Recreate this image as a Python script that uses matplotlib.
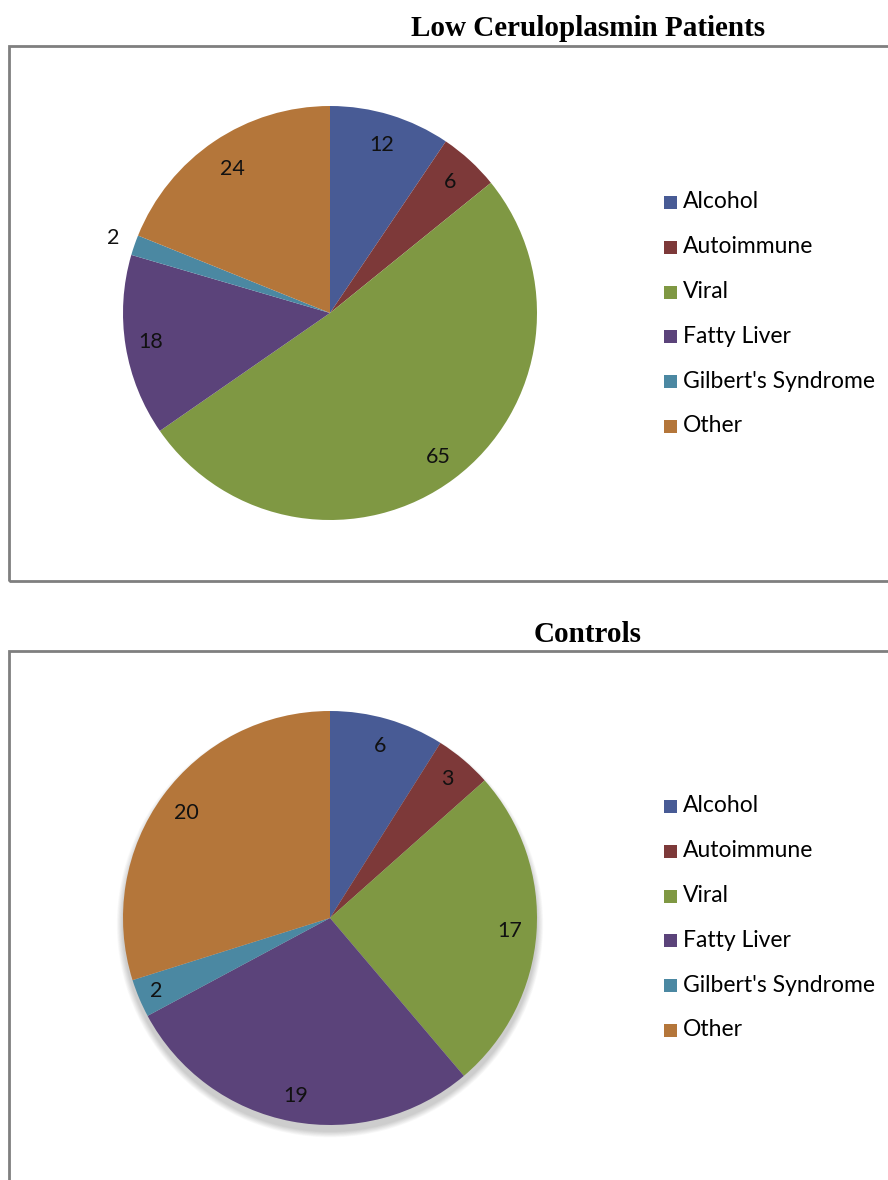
import numpy as np
import matplotlib.pyplot as plt
from matplotlib.patches import Rectangle, Circle

# ── Data ──────────────────────────────────────────────────────────
CATEGORIES = ["Alcohol", "Autoimmune", "Viral", "Fatty Liver",
              "Gilbert's Syndrome", "Other"]
LOW_CP     = [12, 6, 65, 18, 2, 24]
CONTROLS   = [6, 3, 17, 19, 2, 20]
TITLES     = ["Low Ceruloplasmin Patients", "Controls"]

COLORS = ["#485B95", "#7D3939", "#7F9843", "#5B437A", "#4B88A2", "#B4763A"]

# label radius (fraction of pie radius) per slice, Excel "best fit" look
LABEL_R = [[0.85, 0.86, 0.87, 0.88, 1.11, 0.84],
           [0.865, 0.88, 0.87, 0.875, 0.91, 0.86]]

W, H, DPI = 888, 1180, 100
fig = plt.figure(figsize=(W / DPI, H / DPI), dpi=DPI)


def px_axes(x0, y0, w, h):
    """axes from pixel box (top-left origin)"""
    return fig.add_axes([x0 / W, 1 - (y0 + h) / H, w / W, h / H])


def fig_rect(x0, y0, x1, y1):
    fig.patches.append(Rectangle((x0 / W, 1 - y1 / H), (x1 - x0) / W, (y1 - y0) / H,
                                 transform=fig.transFigure, fill=False,
                                 edgecolor="#7f7f7f", linewidth=2.0))


# panel frames (right / bottom run past the image)
fig_rect(9, 46, 900, 581)
fig_rect(9, 651, 900, 1200)

panels = [
    dict(vals=LOW_CP, cx=330, cy=313, title_x=588, title_y=28, leg_y=202, shadow=False),
    dict(vals=CONTROLS, cx=330, cy=918, title_x=588, title_y=634, leg_y=806, shadow=True),
]
R = 207

for pi, p in enumerate(panels):
    fig.text(p["title_x"] / W, 1 - p["title_y"] / H, TITLES[pi],
             ha="center", va="center", fontsize=21, fontweight="bold",
             family="Liberation Serif")

    pad = 40
    ax = px_axes(p["cx"] - R - pad, p["cy"] - R - pad, 2 * (R + pad), 2 * (R + pad))

    if p["shadow"]:
        # soft drop shadow under the pie
        for k in range(10):
            ax.add_patch(Circle((0, -0.03), 1.0 + 0.003 * (10 - k),
                                color="black", alpha=0.02, lw=0, zorder=0))

    wedges, _ = ax.pie(p["vals"], colors=COLORS, startangle=90, counterclock=False,
                       radius=1.0, wedgeprops=dict(linewidth=0, edgecolor="none"))
    for w in wedges:
        w.set_zorder(1)

    lim = (R + pad) / R
    ax.set_xlim(-lim, lim); ax.set_ylim(-lim, lim)
    ax.set_aspect("equal"); ax.axis("off")

    total = sum(p["vals"])
    cum = 0
    for i, v in enumerate(p["vals"]):
        mid = 90 - 360 * (cum + v / 2) / total
        cum += v
        rr = LABEL_R[pi][i]
        ax.text(rr * np.cos(np.radians(mid)), rr * np.sin(np.radians(mid)), str(v),
                ha="center", va="center", fontsize=15.5, color="#111111",
                family="Lato", zorder=3)

    # legend
    for i, name in enumerate(CATEGORIES):
        y = p["leg_y"] + i * 44.8
        fig.patches.append(Rectangle((664 / W, 1 - (y + 7) / H), 13 / W, 13 / H,
                                     transform=fig.transFigure, facecolor=COLORS[i],
                                     edgecolor="none"))
        fig.text(683 / W, 1 - y / H, name, ha="left", va="center",
                 fontsize=16.5, family="Lato", color="black")

fig.savefig("out.png", dpi=DPI)
plt.close(fig)
